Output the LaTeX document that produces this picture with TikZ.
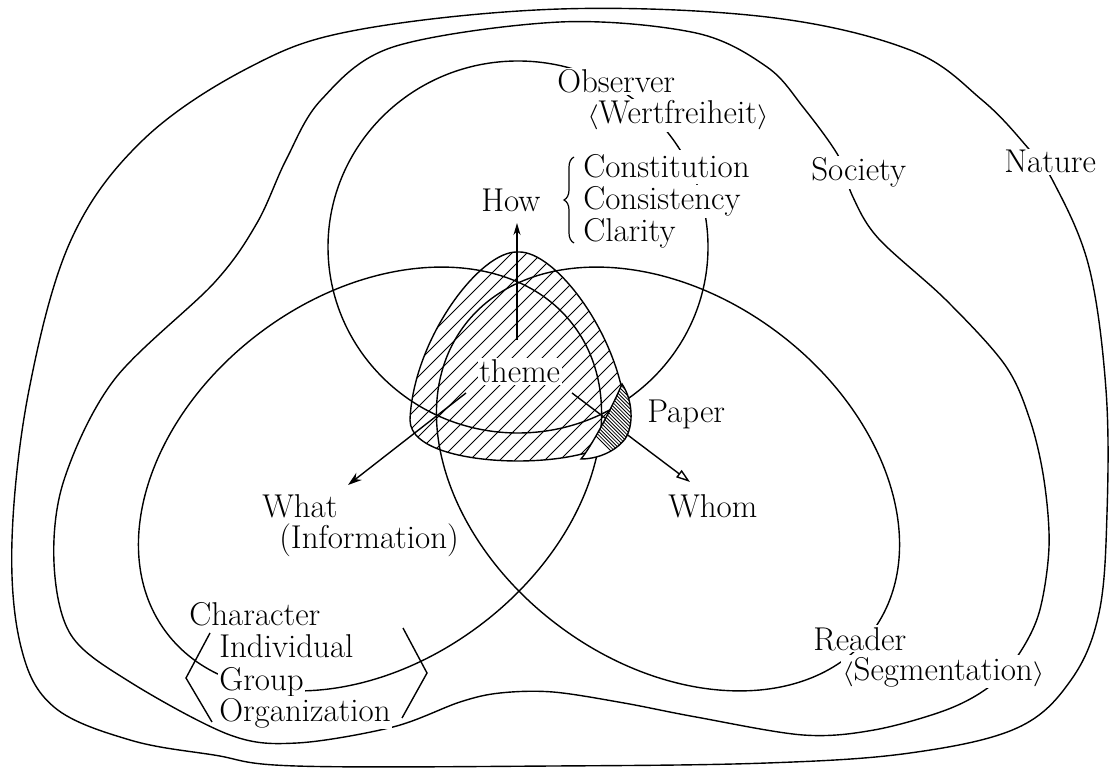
\documentclass[tikz,border=0pt]{standalone}
\usetikzlibrary{arrows.meta,decorations.pathreplacing}
\newcommand\blobpath{(518,252) .. controls (480,250) and (413,340) .. (410,420) .. controls (410,450) and (470,461) .. (518,461) .. controls (566,461) and (626,450) .. (626,420) .. controls (623,340) and (556,250) .. (518,252) -- cycle}
\newcommand\crescentpath{(622,384) .. controls (633,400) and (634,426) .. (625,439) .. controls (615,452) and (597,459) .. (581,459) .. controls (591,447) and (611,410) .. (622,384) -- cycle}
\newcommand\lang{\scalebox{0.85}[0.72]{$\langle$}}
\newcommand\rang{\scalebox{0.85}[0.72]{$\rangle$}}
\begin{document}
\begin{tikzpicture}[x=0.5pt,y=-0.5pt,line width=0.7pt,
  lbl/.style={fill=white,inner sep=0.8pt,anchor=base west,font=\fontsize{16.5}{17}\selectfont},
  hatchline/.style={line width=0.45pt},
  denseline/.style={line width=0.4pt},
  arrfill/.style={-{Stealth[length=7pt,width=4.5pt]}},
  arrhow/.style={-{Stealth[length=6pt,width=3.5pt]}},
  arropen/.style={-{Triangle[open,length=7pt,width=4.5pt]}}]
\useasboundingbox (0,0) rectangle (1113,769);

% Nature (outer)
\draw plot[smooth cycle,tension=0.6] coordinates {(560,9) (767,17) (910,50) (982,100) (1028,148) (1054,183) (1089,267) (1106,390) (1107,513) (1099,613) (1071,680) (1017,728) (910,753) (767,763) (553,766) (296,766) (214,755) (130,740) (54,707) (21,647) (12,540) (29,390) (71,240) (143,140) (250,67) (357,30)};

% Society
\draw plot[smooth cycle,tension=0.55] coordinates {(560,22) (696,33) (767,67) (803,107) (839,157) (852,195) (878,238) (946,300) (1005,365) (1030,420) (1044,480) (1049,547) (1039,613) (1017,657) (989,687) (946,710) (874,730) (803,735) (696,717) (624,703) (553,692) (500,693) (460,702) (393,727) (297,743) (230,735) (130,682) (71,635) (54,563) (64,480) (114,380) (214,283) (257,223) (286,160) (321,100) (393,47)};

% Observer circle
\draw (518,247) ellipse [x radius=190,y radius=186];
% What ellipse
\draw[rotate around={37:(370,479)}] (370,479) ellipse [x radius=255,y radius=183];
% Reader ellipse
\draw[rotate around={-37:(668,479)}] (668,479) ellipse [x radius=255,y radius=183];

% theme blob
\begin{scope}
  \clip \blobpath;
  \foreach \i in {0,...,34} \draw[hatchline] ({150+15*\i},480) -- ++(280,-280);
\end{scope}
\draw \blobpath;

% arrows
\coordinate (howfrom) at (517,340);
\coordinate (howtip) at (517,223);
\coordinate (whatfrom) at (466,393);
\coordinate (whattip) at (348,485);
\coordinate (whomfrom) at (572,393);
\coordinate (whomtip) at (690,482);
\draw[arrhow] (howfrom) -- (howtip);
\draw[arrfill] (whatfrom) -- (whattip);
\draw[arropen] (whomfrom) -- (whomtip);

% Paper crescent
\fill[white] \crescentpath;
\begin{scope}
  \clip \crescentpath;
  \foreach \i in {0,...,40} \draw[denseline] ({530+3.6*\i},370) -- ++(100,100);
\end{scope}
\draw \crescentpath;

% brace and brackets
\draw[line width=0.6pt,decorate,decoration={brace,amplitude=5pt}] (574,243) -- (574,157);
\draw (210,633) -- (186,678) -- (212,722);
\draw (403,628) -- (427,673) -- (402,718);

% labels
\node[lbl] (observer) at (555,93) {Observer};
\node[lbl] (wert) at (585,124) {\lang Wertfreiheit\rang};
\node[lbl] (how) at (479,212) {How};
\node[lbl,inner ysep=2.6pt] (constitution) at (581,178) {Constitution};
\node[lbl] (consistency) at (581,210) {Consistency};
\node[lbl] (clarity) at (581,242) {Clarity};
\node[lbl] (society) at (809,181) {Society};
\node[lbl] (nature) at (1002,173) {Nature};
\node[lbl] (theme) at (477,383) {theme};
\node[lbl] (paper) at (645,423) {Paper};
\node[lbl] (what) at (260,517) {What};
\node[lbl] (info) at (277,548) {(Information)};
\node[lbl] (whom) at (666,517) {Whom};
\node[lbl] (character) at (187,625) {Character};
\node[lbl] (individual) at (217,657) {Individual};
\node[lbl] (group) at (217,690) {Group};
\node[lbl] (organization) at (217,721) {Organization};
\node[lbl] (reader) at (811,650) {Reader};
\node[lbl] (segmentation) at (840,680) {\lang Segmentation\rang};
\end{tikzpicture}
\end{document}
